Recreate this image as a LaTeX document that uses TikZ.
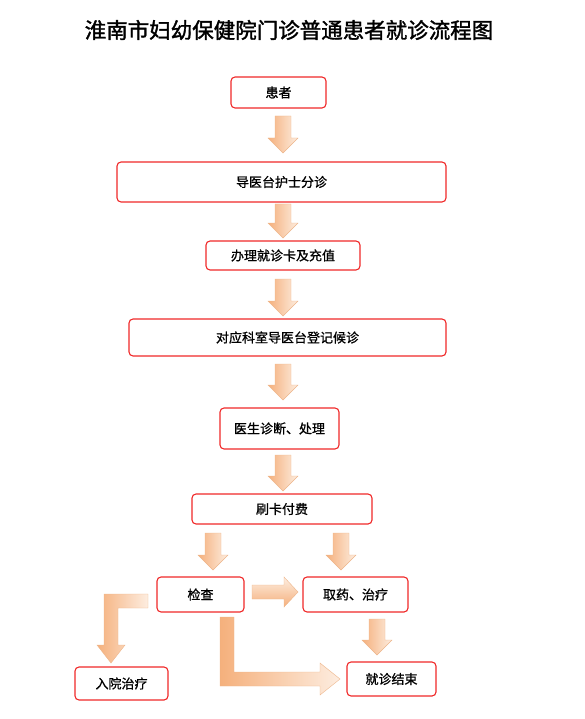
\documentclass[tikz,border=0pt]{standalone}
\usepackage{fontspec}
\setmainfont{Noto Sans CJK SC}[AutoFakeBold=1]
\newfontfamily\titlefont{Noto Sans CJK SC}[AutoFakeBold=1.6]
\usetikzlibrary{calc}
\definecolor{boxred}{HTML}{F02828}
\definecolor{arrD}{HTML}{F5B07C}
\definecolor{arrL}{HTML}{FDEDE0}
\definecolor{arrE}{HTML}{EDB58A}
\newcommand\blkdown[3]{\path[blk] (#1-8,#2) -- (#1+8,#2) -- (#1+8,#3-15) -- (#1+15,#3-15) -- (#1,#3) -- (#1-15,#3-15) -- (#1-8,#3-15) -- cycle;}
\begin{document}
\begin{tikzpicture}[x=1pt,y=-1pt,
  box/.style={draw=boxred, line width=1.1pt, rounded corners=4pt, fill=white, font=\fontsize{13}{15}\selectfont\bfseries, inner sep=0pt},
  blk/.style={left color=arrD, right color=arrL, draw=arrE, line width=0.4pt},
  blkh/.style={top color=arrL, bottom color=arrD, draw=arrE, line width=0.4pt}]
\useasboundingbox (0,0) rectangle (585,719);
\node[font=\titlefont\fontsize{21.5}{24}\selectfont\bfseries] (title) at (289,30) {淮南市妇幼保健院门诊普通患者就诊流程图};

\node[box, minimum width=95, minimum height=31] (p) at (278.5,92.5) {患者};
\node[box, minimum width=329, minimum height=40] (t) at (281.5,182) {导医台护士分诊};
\node[box, minimum width=154, minimum height=29] (c) at (283,255.5) {办理就诊卡及充值};
\node[box, minimum width=317, minimum height=37] (r) at (287.5,337.5) {对应科室导医台登记候诊};
\node[box, minimum width=119, minimum height=41] (d) at (279.5,428.5) {医生诊断、处理};
\node[box, minimum width=180, minimum height=30] (f) at (282,509) {刷卡付费};
\node[box, minimum width=87, minimum height=35] (j) at (200.5,594.5) {检查};
\node[box, minimum width=105, minimum height=35] (q) at (355.5,594.5) {取药、治疗};
\node[box, minimum width=93, minimum height=33] (h) at (121.5,683.5) {入院治疗};
\node[box, minimum width=89, minimum height=34] (e) at (391.5,679) {就诊结束};

\blkdown{283}{116}{153}
\blkdown{283}{204}{238}
\blkdown{283}{279}{316}
\blkdown{283}{364}{400}
\blkdown{283}{455}{491}
\blkdown{213}{533}{570}
\blkdown{341}{533}{570}
\blkdown{377}{619}{655}

\path[blkh] (252,585) -- (284,585) -- (284,577) -- (298,592) -- (284,607) -- (284,599) -- (252,599) -- cycle;
\path[blk] (148,594) -- (104,594) -- (104,645) -- (97,645) -- (111,663) -- (125,645) -- (118,645) -- (118,608) -- (148,608) -- cycle;
\path[blk] (220,617) -- (234,617) -- (234,672) -- (320,672) -- (320,663) -- (340,679) -- (320,695) -- (320,686) -- (220,686) -- cycle;
\end{tikzpicture}
\end{document}
